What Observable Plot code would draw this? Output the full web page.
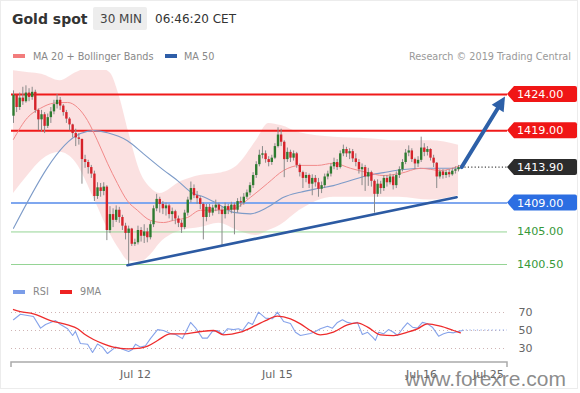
<!DOCTYPE html>
<html><head><meta charset="utf-8">
<script src="https://cdn.jsdelivr.net/npm/d3@7"></script>
<script src="https://cdn.jsdelivr.net/npm/@observablehq/plot@0.6"></script>
<style>
body{margin:0;background:#fff;font-family:"DejaVu Sans",sans-serif;}
#wrap{position:relative;width:580px;height:393px;overflow:hidden;background:#fff;}
.abs{position:absolute;white-space:nowrap;line-height:1;}
.sw{position:absolute;height:4px;width:12px;}
#main{position:absolute;left:0;top:70px;}
#rsi{position:absolute;left:0;top:296px;}
</style></head><body>
<div id="wrap">
  <div class="abs" style="left:0;top:0;width:578px;height:389px;border:1px solid #ececec;box-sizing:border-box;"></div>
  <div class="abs" style="left:12px;top:11.5px;font-size:14px;font-weight:bold;color:#333">Gold spot</div>
  <div class="abs" style="left:93px;top:7px;width:54px;height:23px;background:#ededed;border-radius:2px;"></div>
  <div class="abs" style="left:100px;top:12.5px;font-size:12px;color:#444">30 MIN</div>
  <div class="abs" style="left:155px;top:12.5px;font-size:12px;color:#333">06:46:20 CET</div>
  <div class="sw" style="left:13px;top:54px;background:#f27c7c"></div>
  <div class="abs" style="left:33px;top:51.5px;font-size:9.7px;color:#888">MA 20 + Bollinger Bands</div>
  <div class="sw" style="left:165px;top:54px;background:#2e5ea8"></div>
  <div class="abs" style="left:184px;top:51.5px;font-size:9.7px;color:#888">MA 50</div>
  <div class="abs" style="right:9px;top:51.5px;font-size:9.7px;color:#999">Research © 2019 Trading Central</div>
  <div class="sw" style="left:13px;top:290px;background:#7b9de8"></div>
  <div class="abs" style="left:33px;top:286.5px;font-size:9.7px;color:#888">RSI</div>
  <div class="sw" style="left:60px;top:290px;background:#ee2222"></div>
  <div class="abs" style="left:80px;top:286.5px;font-size:9.7px;color:#888">9MA</div>
  <div id="main"></div>
  <div id="rsi"></div>
  <div class="abs" style="left:405px;top:368px;font-family:'Liberation Sans',Arial,sans-serif;font-size:21px;color:rgba(110,110,110,0.8)">www.forexre.com</div>
</div>
<script>
// ---------- data ----------
const firstOpen = 1421.0;
const closes = [1423.9,1422.2,1423.5,1423.0,1424.2,1423.6,1424.3,1421.8,
1420.5,1421.2,1419.6,1420.8,1421.6,1422.6,1423.2,1422.4,
1421.5,1420.6,1419.8,1418.6,1418.0,1417.8,
1415.0,1414.6,1413.9,1413.0,1409.9,1411.1,1410.6,1411.2,1405.2,
1407.4,1406.6,1408.0,1407.0,1405.8,1404.8,1405.4,1403.3,1403.5,1405.2,1404.4,1405.0,1404.2,1406.0,1408.2,1409.5,
1408.8,1408.2,1408.6,1407.4,1407.8,1406.8,1406.2,1405.6,1407.6,1409.4,1411.0,1410.0,1409.6,1408.8,1407.0,1408.4,1407.6,1408.3,1408.7,1408.0,1407.4,1408.5,1408.0,1408.7,1408.0,1409.2,1409.0,1409.8,1410.4,1411.4,1412.8,1414.3,1415.6,1415.8,1415.0,1414.6,1415.2,1416.8,1418.4,1417.4,1415.0,1416.0,1415.2,1415.8,1414.2,1413.2,1412.4,1412.8,
1411.6,1412.4,1411.8,1410.9,1411.4,1412.6,1413.0,1414.0,1414.6,1413.9,1415.8,1416.4,1415.8,1416.1,1415.1,1414.6,1413.6,1413.9,1412.6,1413.2,1412.0,1410.2,1411.6,1411.0,1412.4,1411.8,1412.6,1411.4,1412.8,1413.6,1414.6,1415.9,1416.2,1415.0,1414.4,1414.9,1416.6,1416.0,1416.4,1415.2,1414.5,1412.6,1413.3,1412.8,1413.2,1412.9,1413.4,1413.6,1413.9];
const highs = [1424.5,1423.9,1424.2,1425.0,1425.2,1424.8,1425.0,1424.6,
1422.0,1421.8,1421.5,1421.3,1422.2,1423.2,1424.0,1423.6,
1422.6,1421.8,1420.8,1419.9,1419.2,1418.6,
1417.8,1415.6,1414.9,1414.2,1413.4,1411.8,1411.7,1411.8,1411.4,
1408.5,1408.2,1408.6,1408.4,1407.3,1406.2,1405.8,1405.5,1404.0,1405.8,1405.6,1406.0,1405.5,1406.4,1408.6,1410.2,
1409.8,1409.2,1409.0,1408.8,1408.3,1408.0,1407.2,1406.6,1408.0,1409.8,1411.9,1411.5,1410.6,1409.9,1409.0,1408.8,1408.8,1408.7,1409.4,1409.0,1408.5,1409.0,1408.8,1409.1,1409.0,1409.6,1409.8,1410.3,1410.8,1411.8,1413.2,1414.7,1416.3,1416.8,1416.2,1415.4,1415.6,1417.2,1419.4,1419.2,1417.6,1416.6,1416.3,1416.2,1416.0,1414.4,1413.4,1413.2,
1413.0,1412.9,1412.8,1412.4,1411.9,1413.0,1413.4,1414.4,1415.2,1415.0,1416.2,1417.0,1416.7,1416.5,1416.4,1415.8,1415.0,1414.4,1414.2,1413.8,1413.4,1412.2,1412.2,1412.0,1412.8,1412.8,1413.0,1412.9,1413.3,1414.0,1415.0,1416.4,1416.9,1416.5,1415.2,1415.4,1418.1,1417.2,1416.8,1416.5,1415.6,1414.6,1413.6,1413.6,1413.5,1413.6,1413.8,1414.0,1414.2];
const lows = [1420.0,1421.5,1421.8,1422.5,1422.8,1423.0,1423.2,1421.4,
1419.0,1418.8,1418.6,1419.3,1420.0,1421.2,1422.0,1421.8,
1421.0,1420.0,1419.0,1418.0,1416.8,1417.0,
1411.6,1413.8,1413.0,1412.4,1409.2,1409.5,1409.8,1410.0,1403.8,
1404.8,1405.6,1406.3,1406.2,1405.2,1403.9,1400.4,1403.0,1403.0,1403.2,1403.6,1403.4,1403.5,1403.9,1405.6,1407.8,
1407.6,1407.4,1407.2,1406.8,1406.5,1406.0,1405.6,1404.8,1405.3,1407.2,1409.0,1409.6,1408.8,1408.1,1403.9,1406.4,1407.0,1407.2,1407.8,1407.4,1403.1,1406.8,1407.4,1407.5,1404.6,1407.6,1408.4,1408.7,1409.5,1410.0,1411.0,1412.4,1414.0,1415.1,1414.5,1414.0,1414.2,1415.0,1416.6,1416.8,1412.5,1414.6,1414.6,1414.8,1413.8,1412.6,1411.0,1411.8,
1411.0,1410.0,1411.2,1409.8,1410.3,1411.0,1412.2,1412.6,1413.6,1413.5,1413.7,1415.4,1415.3,1415.0,1414.6,1414.0,1413.0,1411.4,1410.6,1411.3,1411.2,1407.6,1409.8,1410.2,1410.6,1411.2,1411.5,1410.8,1411.0,1412.4,1413.3,1414.3,1415.4,1414.6,1413.6,1413.9,1414.6,1415.4,1415.5,1414.8,1413.9,1411.0,1412.3,1412.3,1412.4,1412.5,1412.7,1413.0,1413.3];

// Bollinger bands and moving averages (bar index, price)
const bandIdx = [0,5,9,15,20,26,31,34,37,41,44,47,54,60,66,72,78,82,86,92,103,114,124,134,143];
const bandHi = [1427.3,1427.0,1426.8,1425.9,1427.0,1427.9,1427.0,1423.8,1418.8,1413.0,1411.1,1410.3,1412.0,1412.8,1413.1,1414.2,1417.6,1420.0,1419.7,1418.7,1418.1,1417.9,1417.6,1417.6,1417.0];
const bandLo = [1410.3,1413.0,1414.9,1416.0,1414.6,1409.5,1404.8,1402.6,1401.0,1400.9,1401.8,1403.4,1405.2,1405.6,1406.2,1405.2,1404.5,1405.2,1406.0,1408.0,1409.8,1409.8,1409.8,1409.4,1410.0];
const ma20Idx = [0,4.5,8.7,12.9,17.4,20.6,23.8,27.0,30.2,33.4,36.6,39.8,44.0,48.2,51.4,55.9,60.1,65.6,70.7,76.2,81.6,86.8,92.2,97.7,102.8,108.3,113.8,118.9,124.4,130.8,137.2,143.6];
const ma20Val = [1417.8,1420.8,1422.1,1422.8,1422.9,1422.2,1420.4,1417.6,1414.5,1411.7,1409.3,1408.0,1406.6,1406.3,1406.6,1407.0,1408.0,1408.0,1408.2,1409.8,1411.7,1413.5,1414.2,1414.2,1414.5,1413.8,1413.2,1412.8,1413.1,1413.8,1413.5,1414.2];
const ma50Idx = [0,21.5,25.7,30.2,36.6,41.8,47.2,52.7,57.8,60.1,65.6,70.7,76.2,81.6,86.8,92.2,97.7,102.8,108.3,113.8,118.9,124.4,134.0,143.6];
const ma50Val = [1405.5,1418.6,1419.0,1418.7,1417.6,1415.8,1413.9,1412.1,1410.3,1410.0,1408.9,1407.7,1407.5,1408.4,1409.8,1410.5,1411.0,1411.4,1412.1,1412.8,1413.2,1413.6,1413.8,1413.8];

// key levels
const levels = [1424, 1419, 1409, 1405, 1400.5];
const levelKinds = ["resistance", "resistance", "pivot", "support", "support"];
const lastPrice = 1413.9;

// trend line and projection arrow (bar index, price)
const trendIdx = [36.6, 142.4];
const trendVal = [1400.4, 1409.8];
const arrowIdx = [144.2, 158.1];
const arrowVal = [1413.9, 1423.65];

// RSI panel
const rsiIdx = [0,2.2,6.4,8.7,10.3,13.5,15.1,17.4,19.0,19.9,21.5,23.8,25.4,27.0,28.6,30.2,32.8,34.4,37.0,38.2,39.2,40.8,42.4,44.0,46.3,48.2,50.4,52.1,54.3,56.9,58.5,60.7,62.3,63.9,65.6,67.2,68.8,70.7,72.3,73.6,75.5,76.8,78.7,81.0,83.2,84.8,86.8,89.0,90.6,92.2,93.8,95.4,97.0,98.6,100.9,102.5,104.1,105.7,107.3,108.9,110.5,112.1,113.8,115.4,116.3,117.3,118.9,120.5,122.1,123.4,125.0,126.6,128.2,129.8,131.4,133.0,134.6,136.6,138.2,139.8,141.4,143.0,144.3];
const rsiVal = [62,68,65.5,52.6,56.7,61,56.7,52,44.4,49,35.6,34.8,25.6,35,31.5,24.4,31.5,30,26.7,29,34.8,31.5,33,41,51,50,46.7,45.6,41,59,53,41.5,41.5,49,50,45.6,52,51,52,50,59,56.7,70.4,63.7,63,70.4,60,57.7,48,44.4,45.6,46.7,49,52,54.8,52.6,59,62,59,57.7,59,45.6,48,42.6,39,48,46.3,51,48,44.4,52,58.5,53.7,52.6,59,57.4,53.7,43.7,46.3,48,47.4,49,50];
const ma9Idx = [0,2.2,6.4,11.9,17.4,20.6,23.1,25.7,28.9,32.1,36.6,40.8,43.1,46.3,50.4,54.6,60.1,64.3,67.5,72.9,77.8,81.0,84.8,89.0,92.2,95.4,98.6,102.8,107.3,110.5,113.8,117.9,122.1,126.6,129.8,133.0,137.2,141.4,143.6];
const ma9Val = [73.3,71,68.5,61,56.3,52,45.2,40,35.2,31.5,29.6,30.4,32.6,38.9,46.3,46.3,48.9,50,45.2,48.1,55.6,61,65.9,63,57.4,50,45.2,48.1,56.3,58.5,53.7,45.2,44.4,48.1,51.9,57.4,54.8,50,47.4];
const rsiLevels = [30, 50, 70];
const tickIdx = [39.2, 84.8, 131.1, 152.6];
const tickLabels = ["Jul 12", "Jul 15", "Jul 16", "Jul 25"];

// ---------- build tables ----------
const candles = closes.map((c, i) => ({i, open: i === 0 ? firstOpen : closes[i - 1], close: c, high: highs[i], low: lows[i]}));
const bull = candles.filter(d => d.close >= d.open);
const bear = candles.filter(d => d.close < d.open);
const bands = bandIdx.map((i, k) => ({i, hi: bandHi[k], lo: bandLo[k]}));
const ma20 = ma20Idx.map((i, k) => ({i, v: ma20Val[k]}));
const ma50 = ma50Idx.map((i, k) => ({i, v: ma50Val[k]}));
const trend = trendIdx.map((i, k) => ({i, v: trendVal[k]}));
const rsi = rsiIdx.map((i, k) => ({i, v: rsiVal[k]}));
const ma9 = ma9Idx.map((i, k) => ({i, v: ma9Val[k]}));
const lv = levels.map((v, k) => ({v, kind: levelKinds[k]}));

const XSCALE = {domain: [0, 160], range: [13, 13 + 160 * 3.112]};
const FONT = "DejaVu Sans";

const lineStyle = {
  resistance: {stroke: "#f01a1a", width: 2, box: "#f01616", text: "#fff"},
  pivot: {stroke: "#7fa7ef", width: 2, box: "#2c6ee2", text: "#fff"},
  support: {stroke: "#95d495", width: 1, box: null, text: "#37993a"},
  last: {box: "#2c2c2c", text: "#fff"}
};

function overlay(index, scales, values, dims) {
  const x = scales.x, y = scales.y;
  const right = dims.width - dims.marginRight;
  const g = d3.create("svg:g");
  // dotted last-price line
  const yl = y(lastPrice);
  g.append("line").attr("x1", x(candles.length - 1) + 3).attr("x2", right).attr("y1", yl).attr("y2", yl)
    .attr("stroke", "#444").attr("stroke-width", 1.2).attr("stroke-dasharray", "1.2,2.2");
  // projection arrow
  const x0 = x(arrowIdx[0]), y0 = y(arrowVal[0]), x1 = x(arrowIdx[1]), y1 = y(arrowVal[1]);
  const len = Math.hypot(x1 - x0, y1 - y0), ux = (x1 - x0) / len, uy = (y1 - y0) / len;
  const hl = 14, hw = 7;
  const bx = x1 - ux * hl, by = y1 - uy * hl;
  g.append("line").attr("x1", x0).attr("y1", y0).attr("x2", bx + ux * 2).attr("y2", by + uy * 2)
    .attr("stroke", "#2d60a8").attr("stroke-width", 4).attr("stroke-linecap", "round");
  g.append("path").attr("d", `M${x1},${y1}L${bx - uy * hw},${by + ux * hw}L${bx + uy * hw},${by - ux * hw}Z`).attr("fill", "#2d60a8");
  // labels
  const labs = lv.map(d => ({v: d.v, kind: d.kind})).concat([{v: lastPrice, kind: "last"}]);
  for (const d of labs) {
    const yy = y(d.v), st = lineStyle[d.kind];
    if (st.box) {
      g.append("path").attr("d", `M${right},${yy}L${right + 7},${yy - 8}H${right + 68}Q${right + 70},${yy - 8} ${right + 70},${yy - 6}V${yy + 6}Q${right + 70},${yy + 8} ${right + 68},${yy + 8}H${right + 7}Z`).attr("fill", st.box);
    }
    g.append("text").attr("x", right + 10).attr("y", yy).attr("dy", "0.36em").attr("text-anchor", "start")
      .attr("font-size", 11.2).attr("font-family", FONT).attr("fill", st.text).text(d.v.toFixed(2));
  }
  return g.node();
}

const main = Plot.plot({
  width: 580, height: 210,
  marginLeft: 11, marginRight: 73, marginTop: 0, marginBottom: 0,
  style: {background: "transparent", fontFamily: FONT, overflow: "hidden"},
  x: {...XSCALE, axis: null},
  y: {domain: [1400.5, 1424], range: [194, 24], axis: null},
  marks: [
    Plot.areaY(bands, {x: "i", y1: "lo", y2: "hi", fill: "#f7c4c4", fillOpacity: 0.5, curve: "monotone-x"}),
    Plot.ruleY(lv.filter(d => d.kind === "support"), {y: "v", stroke: lineStyle.support.stroke, strokeWidth: 1}),
    Plot.ruleY(lv.filter(d => d.kind === "pivot"), {y: "v", stroke: lineStyle.pivot.stroke, strokeWidth: 2}),
    Plot.ruleY(lv.filter(d => d.kind === "resistance"), {y: "v", stroke: lineStyle.resistance.stroke, strokeWidth: 2}),
    Plot.line(ma50, {x: "i", y: "v", stroke: "#7d9bc8", strokeWidth: 1.1, curve: "monotone-x"}),
    Plot.line(ma20, {x: "i", y: "v", stroke: "#f28a8a", strokeWidth: 1, curve: "monotone-x"}),
    Plot.ruleX(candles, {x: "i", y1: "low", y2: "high", stroke: "#8a8a8a", strokeWidth: 1}),
    Plot.ruleX(bull, {x: "i", y1: "open", y2: "close", stroke: "#2e7b30", strokeWidth: 2.4}),
    Plot.ruleX(bear, {x: "i", y1: "open", y2: "close", stroke: "#d6222a", strokeWidth: 2.4}),
    Plot.line(trend, {x: "i", y: "v", stroke: "#2c5aa2", strokeWidth: 2.6}),
    overlay
  ]
});
document.getElementById("main").appendChild(main);

function rsiExtras(index, scales, values, dims) {
  const x = scales.x, y = scales.y;
  const left = dims.marginLeft, right = dims.width - dims.marginRight, base = dims.height - dims.marginBottom;
  const g = d3.create("svg:g");
  const yv = y(rsiVal[rsiVal.length - 1]);
  g.append("line").attr("x1", x(rsiIdx[rsiIdx.length - 1])).attr("x2", right).attr("y1", yv).attr("y2", yv)
    .attr("stroke", "#8aa6ea").attr("stroke-width", 1).attr("stroke-dasharray", "1.2,2.5");
  g.append("path").attr("d", `M${left},${base + 5}V${base}H${right}V${base + 5}`)
    .attr("fill", "none").attr("stroke", "#aaa").attr("stroke-width", 1.5);
  return g.node();
}

const rsiChart = Plot.plot({
  width: 580, height: 92,
  marginLeft: 11, marginRight: 73, marginTop: 0, marginBottom: 26,
  style: {background: "transparent", fontFamily: FONT, fontSize: "11px", color: "#666"},
  x: {...XSCALE, ticks: tickIdx, tickFormat: d => tickLabels[tickIdx.indexOf(d)], tickSize: 0, tickPadding: 8, label: null},
  y: {domain: [30, 70], range: [52, 16], ticks: rsiLevels, tickSize: 0, tickPadding: 11, axis: "right", label: null},
  marks: [
    Plot.ruleY(rsiLevels, {stroke: "#cfb4b4", strokeDasharray: "1,3"}),
    Plot.line(rsi, {x: "i", y: "v", stroke: "#86a3ea", strokeWidth: 1.1}),
    Plot.line(ma9, {x: "i", y: "v", stroke: "#ee2c2c", strokeWidth: 1.3, curve: "monotone-x"}),
    rsiExtras
  ]
});
document.getElementById("rsi").appendChild(rsiChart);
</script>
</body></html>
